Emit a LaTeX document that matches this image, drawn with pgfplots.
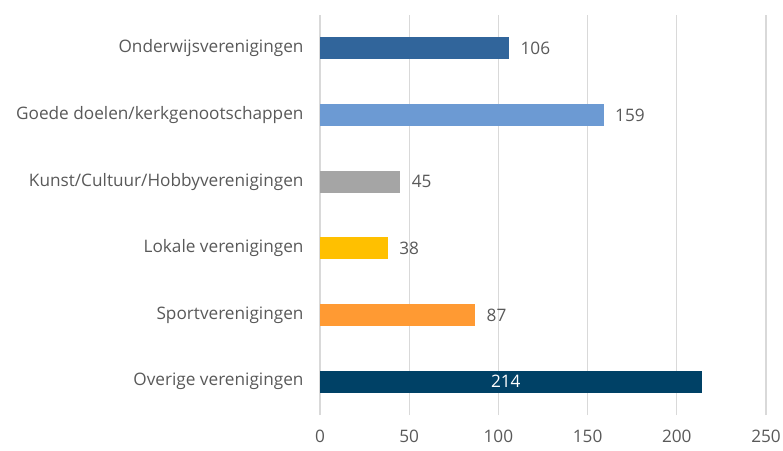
\documentclass[border=0pt]{standalone}
\usepackage{fontspec}
\setmainfont{Open Sans}
\usepackage{pgfplots}
\pgfplotsset{compat=1.18}
\definecolor{cOnd}{HTML}{31659B}
\definecolor{cGoe}{HTML}{6C9AD3}
\definecolor{cKun}{HTML}{A5A5A5}
\definecolor{cLok}{HTML}{FFC000}
\definecolor{cSpo}{HTML}{FF9A33}
\definecolor{cOve}{HTML}{004166}
\definecolor{txt}{HTML}{595959}
\definecolor{grd}{HTML}{D9D9D9}
\begin{document}
\begin{tikzpicture}
\begin{axis}[
  at={(0,0)}, anchor=south west,
  scale only axis, width=446pt, height=400pt,
  xbar, bar width=22pt, bar shift=0pt,
  xmin=0, xmax=250, ymin=-0.5, ymax=5.5,
  xtick={0,50,100,150,200,250},
  ytick={0,1,2,3,4,5},
  yticklabels={Overige verenigingen,Sportverenigingen,Lokale verenigingen,Kunst/Cultuur/Hobbyverenigingen,Goede doelen/kerkgenootschappen,Onderwijsverenigingen},
  axis line style={draw=none},
  major tick length=0pt,
  xmajorgrids, grid style={grd, line width=1.3pt},
  tick label style={font=\fontsize{17.2}{20}\selectfont, text=txt},
  /pgf/number format/assume math mode=true,
  yticklabel style={xshift=-13pt},
  xticklabel style={yshift=-11pt},
  nodes near coords,
  every node near coord/.append style={font=\fontsize{17.2}{20}\selectfont, text=txt, anchor=west, xshift=8pt},
  clip=false,
]
\addplot[fill=cOve, draw=none, every node near coord/.append style={text=white, anchor=center, xshift=-204pt}] coordinates {(214,0)};
\addplot[fill=cSpo, draw=none] coordinates {(87,1)};
\addplot[fill=cLok, draw=none] coordinates {(38,2)};
\addplot[fill=cKun, draw=none] coordinates {(45,3)};
\addplot[fill=cGoe, draw=none] coordinates {(159,4)};
\addplot[fill=cOnd, draw=none] coordinates {(106,5)};
\end{axis}
\pgfresetboundingbox
\path[use as bounding box] (-320pt,-35pt) rectangle (463pt,415pt);
\end{tikzpicture}
\end{document}
